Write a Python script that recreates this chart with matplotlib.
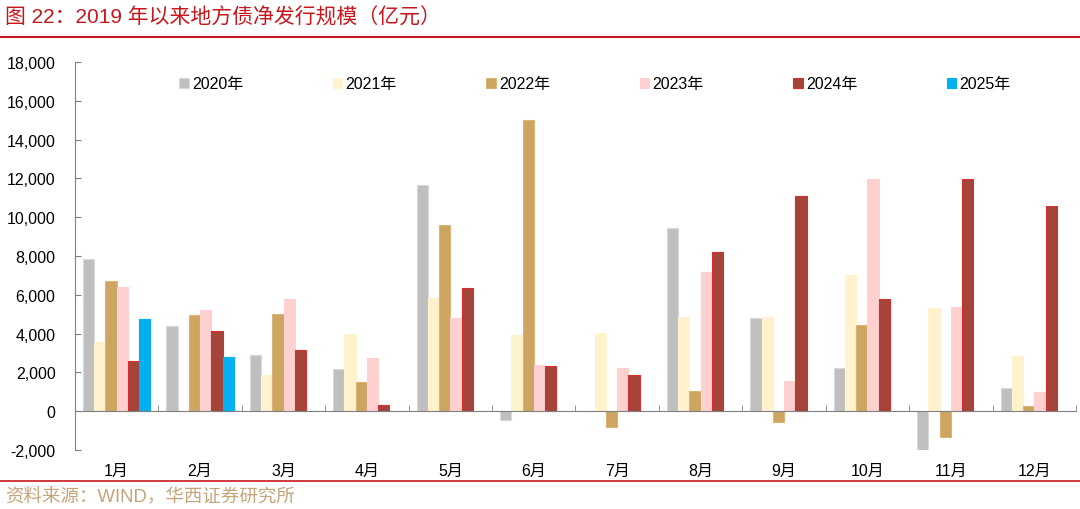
import numpy as np
import matplotlib
matplotlib.use('Agg')
import matplotlib.pyplot as plt
from matplotlib.ticker import FuncFormatter

plt.rcParams['font.family'] = ['Liberation Sans', 'Noto Sans CJK SC', 'DejaVu Sans']

months = ['1月', '2月', '3月', '4月', '5月', '6月', '7月', '8月', '9月', '10月', '11月', '12月']
years = ['2020年', '2021年', '2022年', '2023年', '2024年', '2025年']
nan = np.nan
v2020 = [7840, 4380, 2900, 2170, 11660, -460, 0, 9420, 4780, 2250, -2080, 1190]
v2021 = [3580, 0, 1850, 3970, 5860, 3920, 4040, 4830, 4830, 7010, 5300, 2870]
v2022 = [6700, 4950, 5020, 1480, 9610, 14990, -840, 1030, -550, 4430, -1310, 260]
v2023 = [6400, 5230, 5800, 2720, 4780, 2370, 2240, 7170, 1550, 11950, 5360, 980]
v2024 = [2600, 4150, 3150, 330, 6360, 2340, 1890, 8220, 11090, 5790, 11950, 10560]
v2025 = [4750, 2780, nan, nan, nan, nan, nan, nan, nan, nan, nan, nan]

series = [v2020, v2021, v2022, v2023, v2024, v2025]
colors = ['#BFBFBF', '#FFF2CC', '#CDA560', '#FFD0D0', '#A5443A', '#00B0F0']
edges = ['#D9D9D9', '#FFF2CC', '#D9B676', '#FFD0D0', '#D92E2E', '#00B0F0']

fig = plt.figure(figsize=(10.8, 5.1), dpi=100)
ax = fig.add_axes([0.0694, 0.1157, 0.9269, 0.7608])

x = np.arange(len(months))
w = 0.135
for k, (vals, c, ec) in enumerate(zip(series, colors, edges)):
    ax.bar(x + (k - 2.5) * w, vals, width=w, color=c, edgecolor=ec,
           linewidth=0.8, label=years[k], zorder=2)

ax.set_xlim(-0.5, len(months) - 0.5)
ax.set_ylim(-2000, 18000)
ax.set_yticks(np.arange(-2000, 18001, 2000))
ax.yaxis.set_major_formatter(FuncFormatter(lambda v, p: f'{int(v):,}'))

for s in ['top', 'right']:
    ax.spines[s].set_visible(False)
ax.spines['left'].set_color('#808080')
ax.spines['bottom'].set_color('#808080')
ax.spines['bottom'].set_position(('data', 0))
ax.spines['bottom'].set_zorder(3)

ax.tick_params(axis='y', direction='in', length=4, color='#808080',
               labelsize=11.5, pad=14)
ax.set_xticks(x)
ax.set_xticklabels(months)
ax.set_xticks(np.arange(-0.5, len(months)), minor=True)
ax.tick_params(axis='x', which='major', length=0, labelsize=11.5, pad=37)
ax.tick_params(axis='x', which='minor', direction='in', length=4, color='#808080')

leg = ax.legend(ncol=6, loc='upper left', bbox_to_anchor=(0.09, 1.0),
                frameon=False, fontsize=11.5, handlelength=0.6,
                handleheight=0.6, handletextpad=0.2, columnspacing=5.6)

fig.text(0.005, 0.965, '图 22：2019 年以来地方债净发行规模（亿元）',
         color='#C8161D', fontsize=15, va='center', ha='left')
fig.add_artist(plt.Line2D([0, 1], [0.925, 0.925], color='#C8161D', lw=1.5))
fig.add_artist(plt.Line2D([0, 1], [0.055, 0.055], color='#C8161D', lw=1.2))
fig.text(0.005, 0.025, '资料来源：WIND，华西证券研究所',
         color='#C4A57A', fontsize=13.3, va='center', ha='left')

fig.savefig('out.png', dpi=100)
